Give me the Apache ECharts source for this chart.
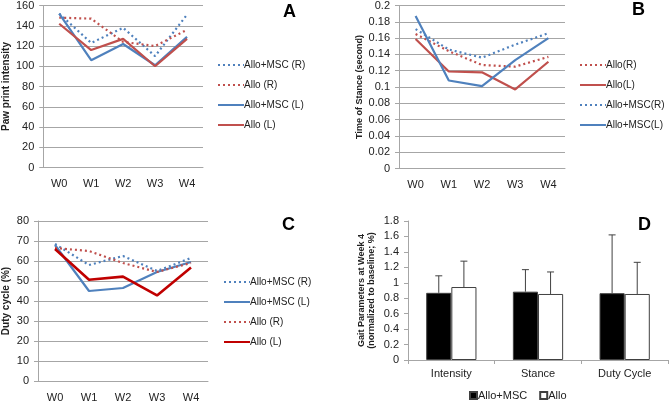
<!DOCTYPE html>
<html><head><meta charset="utf-8">
<script src="https://cdn.jsdelivr.net/npm/echarts@6/dist/echarts.min.js"></script>
<style>html,body{margin:0;padding:0;background:#fff}#c{width:670px;height:403px}</style>
</head><body><div id="c"></div>
<script>
// ---- Data ----
const weeks = ['W0', 'W1', 'W2', 'W3', 'W4'];
// Panel A: paw print intensity
const intMscR = [152, 123, 138, 110, 151];
const intAlloR = [148, 147, 124, 120, 136];
const intMscL = [152, 106, 122, 101, 129];
const intAlloL = [142, 116, 127, 100, 127];
// Panel B: time of stance (s)
const stAlloR = [0.165, 0.144, 0.127, 0.125, 0.137];
const stAlloL = [0.159, 0.119, 0.118, 0.097, 0.131];
const stMscR = [0.171, 0.146, 0.136, 0.152, 0.166];
const stMscL = [0.187, 0.108, 0.101, 0.133, 0.160];
// Panel C: duty cycle (%)
const dcMscR = [68.5, 58, 62.5, 55, 61.5];
const dcMscL = [68, 45, 46.5, 54.5, 59.5];
const dcAlloR = [66.5, 65, 59, 54.5, 59];
const dcAlloL = [66, 50.6, 52.2, 42.8, 56.7];
// Panel D: gait parameters at week 4
const gaitCats = ['Intensity', 'Stance', 'Duty Cycle'];
const gaitMsc = [0.87, 0.885, 0.865];
const gaitMscErr = [0.22, 0.285, 0.755];
const gaitAllo = [0.945, 0.855, 0.855];
const gaitAlloErr = [0.335, 0.285, 0.41];

// ---- Styles ----
const BLUE = '#4F81BD', RED = '#C0504D', DARKRED = '#C00000';
const GRID = '#a6a6a6', TXT = '#222';
const FONT = 'Liberation Sans';
const DOT = [2, 3];

function lineSeries(name, data, color, dotted, idx, width) {
  return {
    type: 'line', name: name, data: data, xAxisIndex: idx, yAxisIndex: idx,
    symbol: 'none', smooth: false, animation: false,
    lineStyle: { color: color, width: width || 2.2, type: dotted ? DOT : 'solid' },
    itemStyle: { color: color }
  };
}
function catAxis(idx, data, extra) {
  return Object.assign({
    type: 'category', gridIndex: idx, data: data, boundaryGap: true,
    axisLine: { lineStyle: { color: GRID } },
    axisTick: { show: false },
    axisLabel: { color: TXT, fontSize: 11, margin: 11, fontFamily: FONT }
  }, extra || {});
}
function valAxis(idx, min, max, interval, name, nameGap, nameSize, extra) {
  return Object.assign({
    type: 'value', gridIndex: idx, min: min, max: max, interval: interval,
    name: name, nameLocation: 'middle', nameGap: nameGap, nameRotate: 90,
    nameTextStyle: { fontWeight: 'bold', fontSize: nameSize, color: TXT, fontFamily: FONT, lineHeight: nameSize + 1 },
    axisLine: { show: true, lineStyle: { color: GRID } },
    axisTick: { show: true, length: 4, lineStyle: { color: GRID } },
    axisLabel: { color: TXT, fontSize: 11, margin: 9, fontFamily: FONT },
    splitLine: { show: true, lineStyle: { color: GRID, width: 1 } }
  }, extra || {});
}
const strip = n => (n.indexOf('|') >= 0 ? n.split('|')[1] : n);
function legendFor(names, left, top) {
  return {
    data: names, orient: 'vertical', left: left, top: top,
    itemWidth: 26, itemHeight: 11, itemGap: 10, selectedMode: false,
    formatter: strip,
    itemStyle: { opacity: 0, borderWidth: 0 },
    textStyle: { fontSize: 10, color: TXT, fontFamily: FONT, padding: [0, 0, 0, -5] }
  };
}

function errRender(sign) {
  return function (params, api) {
    const x = api.value(0);
    const p0 = api.coord([x, api.value(1)]);
    const p1 = api.coord([x, api.value(2)]);
    const band = api.size([1, 0])[0];
    const off = sign * band * 0.58 / 4;
    const cx = p0[0] + off;
    const cap = 3.5;
    const st = { stroke: '#404040', lineWidth: 1 };
    return {
      type: 'group', children: [
        { type: 'line', shape: { x1: cx, y1: p0[1], x2: cx, y2: p1[1] }, style: st },
        { type: 'line', shape: { x1: cx - cap, y1: p1[1], x2: cx + cap, y2: p1[1] }, style: st }
      ]
    };
  };
}

const option = {
  animation: false,
  textStyle: { fontFamily: FONT },
  grid: [
    { left: 41, top: 4.5, width: 162, height: 163 },
    { left: 399, top: 4.5, width: 166, height: 164 },
    { left: 37, top: 221, width: 171, height: 163 },
    { left: 408, top: 221, width: 260, height: 139 }
  ],
  xAxis: [
    catAxis(0, weeks),
    catAxis(1, weeks),
    catAxis(2, weeks),
    catAxis(3, gaitCats, {
      axisTick: { show: true, length: 4, lineStyle: { color: GRID } },
      axisLabel: { color: TXT, fontSize: 11, margin: 8, fontFamily: FONT }
    })
  ],
  yAxis: [
    valAxis(0, 0, 160, 20, 'Paw print intensity', 29, 10),
    valAxis(1, 0, 0.2, 0.02, 'Time of Stance (second)', 32, 9),
    valAxis(2, 0, 80, 10, 'Duty cycle (%)', 26, 10),
    valAxis(3, 0, 1.8, 0.2, 'Gait Parameters at Week 4\n(normalized to baseline; %)', 31, 9, {
      splitLine: { show: false }
    })
  ],
  legend: [
    legendFor(['A|Allo+MSC (R)', 'A|Allo (R)', 'A|Allo+MSC (L)', 'A|Allo (L)'], 212, 55),
    legendFor(['B|Allo(R)', 'B|Allo(L)', 'B|Allo+MSC(R)', 'B|Allo+MSC(L)'], 574, 55),
    legendFor(['C|Allo+MSC (R)', 'C|Allo+MSC (L)', 'C|Allo (R)', 'C|Allo (L)'], 218, 272),
    {
      data: ['Allo+MSC', 'Allo'], orient: 'horizontal', left: 464, top: 385,
      icon: 'rect', itemWidth: 7, itemHeight: 7, itemGap: 12, selectedMode: false,
      textStyle: { fontSize: 11, color: TXT, fontFamily: FONT, padding: [0, 0, 0, -4] }
    }
  ],
  graphic: [
    { type: 'text', left: 283, top: 3, style: { text: 'A', font: 'bold 18px "Liberation Sans"', fill: '#000' } },
    { type: 'text', left: 632, top: 1, style: { text: 'B', font: 'bold 18px "Liberation Sans"', fill: '#000' } },
    { type: 'text', left: 282, top: 216, style: { text: 'C', font: 'bold 18px "Liberation Sans"', fill: '#000' } },
    { type: 'text', left: 638, top: 216, style: { text: 'D', font: 'bold 18px "Liberation Sans"', fill: '#000' } }
  ],
  series: [
    lineSeries('A|Allo+MSC (R)', intMscR, BLUE, true, 0),
    lineSeries('A|Allo (R)', intAlloR, RED, true, 0),
    lineSeries('A|Allo+MSC (L)', intMscL, BLUE, false, 0),
    lineSeries('A|Allo (L)', intAlloL, RED, false, 0),

    lineSeries('B|Allo(R)', stAlloR, RED, true, 1),
    lineSeries('B|Allo(L)', stAlloL, RED, false, 1),
    lineSeries('B|Allo+MSC(R)', stMscR, BLUE, true, 1),
    lineSeries('B|Allo+MSC(L)', stMscL, BLUE, false, 1),

    lineSeries('C|Allo+MSC (R)', dcMscR, BLUE, true, 2),
    lineSeries('C|Allo+MSC (L)', dcMscL, BLUE, false, 2),
    lineSeries('C|Allo (R)', dcAlloR, RED, true, 2),
    lineSeries('C|Allo (L)', dcAlloL, DARKRED, false, 2, 2.6),

    {
      type: 'bar', name: 'Allo+MSC', data: gaitMsc, xAxisIndex: 3, yAxisIndex: 3,
      barGap: 0, barCategoryGap: '42%',
      itemStyle: { color: '#000', borderColor: '#404040', borderWidth: 1 }
    },
    {
      type: 'bar', name: 'Allo', data: gaitAllo, xAxisIndex: 3, yAxisIndex: 3,
      barGap: 0, barCategoryGap: '42%',
      itemStyle: { color: '#fff', borderColor: '#404040', borderWidth: 1 }
    },
    {
      type: 'custom', name: 'errMsc', xAxisIndex: 3, yAxisIndex: 3, z: 5,
      renderItem: errRender(-1),
      encode: { x: 0, y: [1, 2] },
      data: gaitMsc.map((v, i) => [i, v, v + gaitMscErr[i]])
    },
    {
      type: 'custom', name: 'errAllo', xAxisIndex: 3, yAxisIndex: 3, z: 5,
      renderItem: errRender(1),
      encode: { x: 0, y: [1, 2] },
      data: gaitAllo.map((v, i) => [i, v, v + gaitAlloErr[i]])
    }
  ]
};
const chart = echarts.init(document.getElementById('c'), null, { renderer: 'canvas' });
chart.setOption(option);
</script>
</body></html>
